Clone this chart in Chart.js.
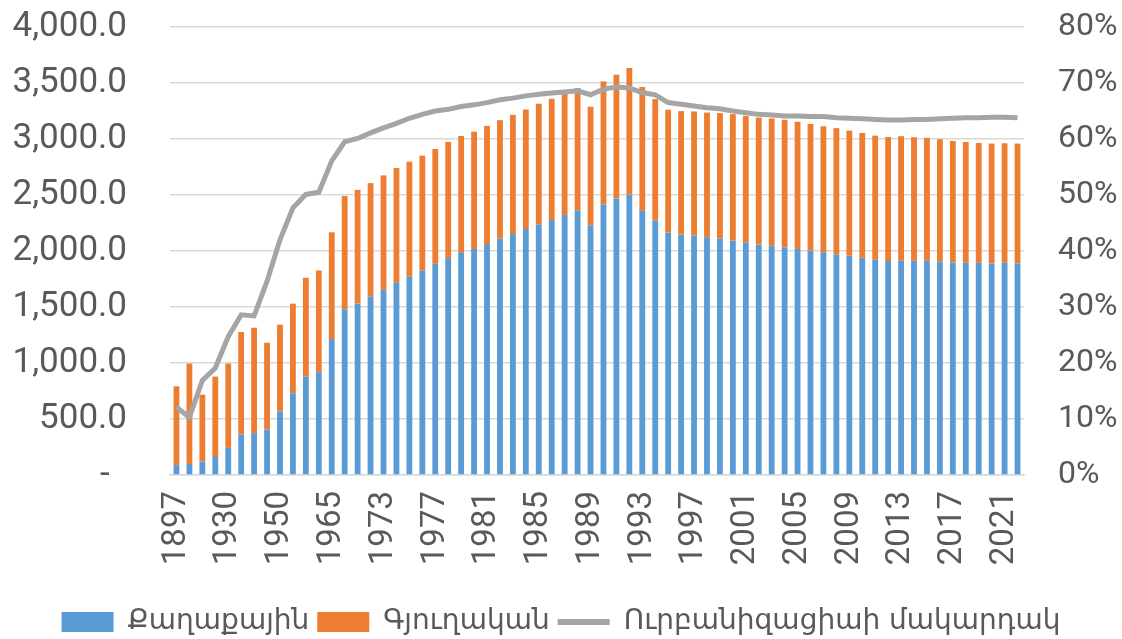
<!DOCTYPE html>
<html>
<head>
<meta charset="utf-8">
<script src="https://cdn.jsdelivr.net/npm/chart.js@4/dist/chart.umd.min.js"></script>
<style>
  html, body { margin: 0; padding: 0; background: #fff; }
  #wrap { width: 1122px; height: 639px; }
</style>
</head>
<body>
<div id="wrap"><canvas id="c"></canvas></div>
<script>
// տարիներ
const years = [
  '1897', '1913', '1920', '1926', '1930', '1935', '1939', '1945', '1950', '1955', '1959', '1960',
  '1965', '1970', '1971', '1972', '1973', '1974', '1975', '1976', '1977', '1978', '1979', '1980',
  '1981', '1982', '1983', '1984', '1985', '1986', '1987', '1988', '1989', '1990', '1991', '1992',
  '1993', '1994', '1995', '1996', '1997', '1998', '1999', '2000', '2001', '2002', '2003', '2004',
  '2005', '2006', '2007', '2008', '2009', '2010', '2011', '2012', '2013', '2014', '2015', '2016',
  '2017', '2018', '2019', '2020', '2021', '2022'
];

// քաղաքային բնակչություն (հազ.)
const urban = [
  90, 99, 120, 161, 242, 362, 374, 407, 565, 730, 879, 918,
  1214, 1479, 1530, 1593, 1653, 1716, 1772, 1826, 1886, 1937, 1988, 2017,
  2062, 2110, 2152, 2196, 2236, 2277, 2322, 2361, 2227, 2415, 2469, 2505,
  2358, 2272, 2164, 2146, 2137, 2122, 2110, 2092, 2075, 2059, 2048, 2032,
  2017, 2003, 1988, 1972, 1958, 1940, 1922, 1910, 1913, 1913, 1913, 1904,
  1898, 1895, 1895, 1889, 1895, 1889
];

// ընդհանուր բնակչություն (հազ.)
const total = [
  792, 995, 717, 879, 995, 1277, 1315, 1181, 1342, 1530, 1761, 1826,
  2167, 2490, 2546, 2606, 2675, 2741, 2797, 2851, 2911, 2974, 3027, 3066,
  3117, 3168, 3216, 3263, 3315, 3359, 3401, 3455, 3288, 3514, 3574, 3634,
  3464, 3356, 3261, 3249, 3246, 3236, 3231, 3222, 3207, 3192, 3183, 3171,
  3153, 3135, 3114, 3097, 3075, 3054, 3030, 3018, 3025, 3016, 3010, 2998,
  2983, 2974, 2965, 2959, 2962, 2959
];

const rural = total.map((t, i) => t - urban[i]);

// ուրբանիզացիայի մակարդակ (%)
const urbanRate = [
  12.1, 10.3, 16.9, 19.1, 24.7, 28.6, 28.4, 34.6, 42.0, 47.7, 50.1, 50.5,
  56.1, 59.5, 60.1, 61.1, 62.0, 62.8, 63.7, 64.4, 65.0, 65.3, 65.8, 66.1,
  66.5, 67.0, 67.3, 67.7, 68.0, 68.2, 68.4, 68.6, 67.9, 68.9, 69.3, 69.1,
  68.3, 67.9, 66.5, 66.2, 65.9, 65.6, 65.4, 65.0, 64.7, 64.4, 64.3, 64.1,
  64.1, 64.0, 64.0, 63.8, 63.7, 63.6, 63.5, 63.4, 63.4, 63.5, 63.5, 63.6,
  63.7, 63.8, 63.8, 63.9, 63.9, 63.8
];

const textColor = '#595959';
const gridColor = '#D9D9D9';

new Chart(document.getElementById('c'), {
  type: 'bar',
  data: {
    labels: years,
    datasets: [
      {
        label: 'Քաղաքային',
        data: urban,
        backgroundColor: '#5B9BD5',
        stack: 's',
        yAxisID: 'y',
        order: 1,
        barPercentage: 0.45,
        categoryPercentage: 1
      },
      {
        label: 'Գյուղական',
        data: rural,
        backgroundColor: '#ED7D31',
        stack: 's',
        yAxisID: 'y',
        order: 1,
        barPercentage: 0.45,
        categoryPercentage: 1
      },
      {
        type: 'line',
        label: 'Ուրբանիզացիաի մակարդակ',
        data: urbanRate,
        borderColor: '#A5A5A5',
        backgroundColor: '#A5A5A5',
        borderWidth: 5,
        pointRadius: 0,
        tension: 0,
        yAxisID: 'y1',
        order: 0
      }
    ]
  },
  options: {
    responsive: true,
    maintainAspectRatio: false,
    animation: false,
    layout: { padding: { top: 27, left: 0, right: 0, bottom: -7 } },
    plugins: {
      tooltip: { enabled: false },
      legend: {
        position: 'bottom',
        labels: {
          color: textColor,
          font: { size: 28, family: "'DejaVu Sans', sans-serif" },
          usePointStyle: true,
          pointStyleWidth: 52,
          boxHeight: 20,
          padding: 8,
          generateLabels: (chart) => Chart.defaults.plugins.legend.labels.generateLabels(chart)
            .map(l => {
              l.pointStyle = l.datasetIndex === 2 ? 'line' : 'rect';
              if (l.datasetIndex === 2) l.lineWidth = 6;
              return l;
            })
            .sort((a, b) => a.datasetIndex - b.datasetIndex)
        }
      }
    },
    scales: {
      x: {
        stacked: true,
        grid: { display: false, drawTicks: false },
        border: { color: gridColor, width: 1.5 },
        ticks: {
          color: textColor,
          font: { size: 33, family: 'Roboto' },
          autoSkip: false,
          maxRotation: 90,
          minRotation: 90,
          padding: 16,
          callback: function (v, i) { return i % 4 === 0 ? this.getLabelForValue(v) : ''; }
        },
        afterFit: (s) => { s.height = 125; s.paddingLeft = 0; s.paddingRight = 0; }
      },
      y: {
        stacked: true,
        position: 'left',
        min: 0,
        max: 4000,
        grid: { color: gridColor, lineWidth: 1.5, drawTicks: false },
        border: { display: false },
        ticks: {
          stepSize: 500,
          color: textColor,
          font: { size: 35, family: 'Roboto' },
          padding: 43,
          callback: (v) => v === 0 ? '-  ' : v.toLocaleString('en-US', { minimumFractionDigits: 1, maximumFractionDigits: 1 })
        },
        afterFit: (s) => { s.width = 170; s.paddingTop = 0; s.paddingBottom = 0; }
      },
      y1: {
        position: 'right',
        min: 0,
        max: 80,
        grid: { display: false, drawTicks: false },
        border: { display: false },
        ticks: {
          stepSize: 10,
          color: textColor,
          font: { size: 32, family: 'Roboto' },
          padding: 34,
          callback: (v) => v + '%'
        },
        afterFit: (s) => { s.width = 98; s.paddingTop = 0; s.paddingBottom = 0; }
      }
    }
  }
});
</script>
</body>
</html>
